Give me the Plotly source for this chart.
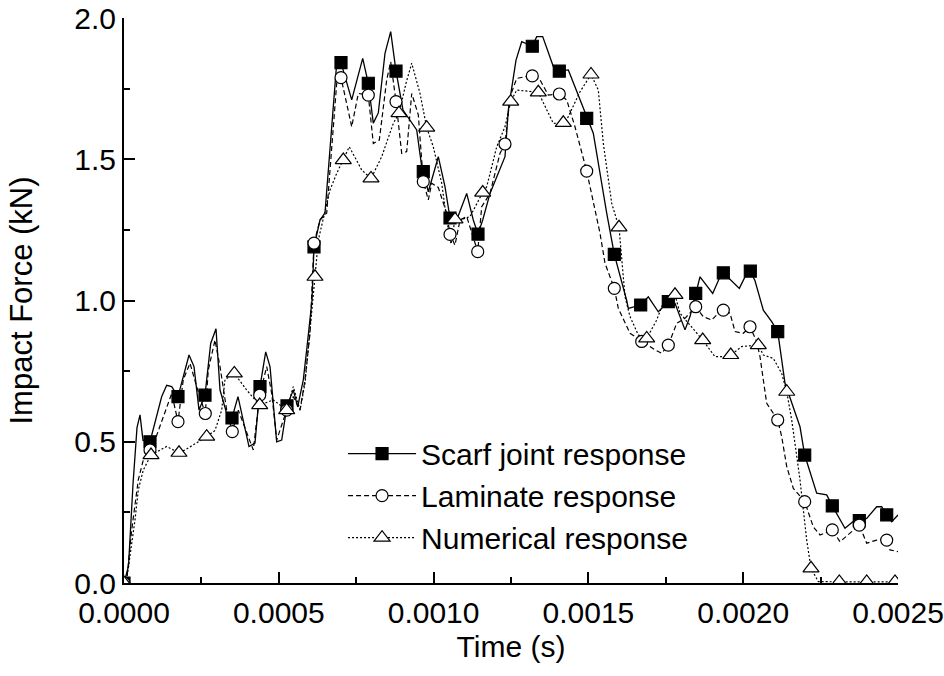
import plotly.graph_objects as go

# ---------------- data (time in s, force in kN) ----------------
scarf_t = [0, 1.45e-5, 2.91e-5, 4.20e-5, 5.17e-5, 6.14e-5, 8.40e-5, 1.218e-4, 1.379e-4, 1.541e-4,
           1.744e-4, 2.100e-4, 2.261e-4, 2.423e-4, 2.616e-4, 2.800e-4, 2.972e-4, 3.101e-4, 3.317e-4, 3.488e-4,
           3.682e-4, 4.037e-4, 4.231e-4, 4.393e-4, 4.577e-4, 4.716e-4, 4.932e-4, 5.094e-4, 5.265e-4, 5.468e-4,
           5.611e-4, 5.791e-4, 5.901e-4, 6.072e-4, 6.137e-4, 6.331e-4, 6.492e-4, 6.870e-4, 7.009e-4, 7.355e-4,
           7.710e-4, 7.891e-4, 8.052e-4, 8.214e-4, 8.430e-4, 8.614e-4, 8.786e-4, 9.012e-4, 9.454e-4, 9.616e-4,
           9.667e-4, 9.829e-4, 1.0152e-3, 1.0368e-3, 1.0530e-3, 1.0746e-3, 1.1069e-3, 1.1282e-3, 1.1434e-3, 1.1586e-3,
           1.1822e-3, 1.2145e-3, 1.2306e-3, 1.2413e-3, 1.2662e-3, 1.2846e-3, 1.3188e-3, 1.3330e-3, 1.3524e-3, 1.3867e-3,
           1.4060e-3, 1.4351e-3, 1.4729e-3, 1.4945e-3, 1.5158e-3, 1.5591e-3, 1.5837e-3, 1.6237e-3, 1.6289e-3, 1.6689e-3,
           1.6935e-3, 1.7258e-3, 1.7581e-3, 1.7797e-3, 1.8120e-3, 1.8282e-3, 1.8466e-3, 1.8605e-3, 1.9015e-3, 1.9251e-3,
           1.9358e-3, 1.9875e-3, 2.0113e-3, 2.0230e-3, 2.0381e-3, 2.0650e-3, 2.0921e-3, 2.1115e-3, 2.1350e-3, 2.1835e-3,
           2.1986e-3, 2.2374e-3, 2.2697e-3, 2.2878e-3, 2.3288e-3, 2.3611e-3, 2.3750e-3, 2.3989e-3, 2.4312e-3, 2.4474e-3,
           2.4635e-3, 2.4797e-3, 2.5000e-3]
scarf_F = [0, 0.06, 0.35, 0.55, 0.595, 0.505, 0.50, 0.66, 0.70, 0.695,
           0.66, 0.807, 0.766, 0.612, 0.665, 0.848, 0.90, 0.683, 0.60, 0.584,
           0.66, 0.483, 0.495, 0.695, 0.818, 0.766, 0.50, 0.506, 0.627, 0.683,
           0.624, 0.719, 0.825, 1.0, 1.19, 1.285, 1.31, 1.84, 1.842, 1.71,
           1.857, 1.769, 1.628, 1.664, 1.875, 1.952, 1.812, 1.674, 1.604, 1.474,
           1.456, 1.385, 1.509, 1.403, 1.292, 1.285, 1.379, 1.285, 1.235, 1.285,
           1.379, 1.468, 1.509, 1.674, 1.851, 1.916, 1.90, 1.934, 1.934, 1.828,
           1.812, 1.816, 1.71, 1.645, 1.592, 1.309, 1.163, 1.0, 0.972, 0.984,
           1.013, 0.96, 0.996, 0.99, 0.896, 0.943, 1.025, 1.084, 1.025, 1.084,
           1.098, 1.043, 1.096, 1.104, 1.07, 0.966, 0.925, 0.89, 0.707, 0.553,
           0.453, 0.318, 0.312, 0.273, 0.194, 0.223, 0.221, 0.229, 0.27, 0.27,
           0.241, 0.217, 0.241]
scarf_mt = [0, 8.40e-5, 1.744e-4, 2.616e-4, 3.488e-4, 4.393e-4, 5.265e-4, 6.137e-4, 7.009e-4, 7.891e-4,
            8.786e-4, 9.667e-4, 1.0530e-3, 1.1434e-3, 1.3188e-3, 1.4060e-3, 1.4945e-3, 1.5837e-3, 1.6689e-3, 1.7581e-3,
            1.8466e-3, 1.9358e-3, 2.0230e-3, 2.1115e-3, 2.1986e-3, 2.2878e-3, 2.3750e-3, 2.4635e-3]
scarf_mF = [0, 0.50, 0.66, 0.665, 0.584, 0.695, 0.627, 1.19, 1.842, 1.769,
            1.812, 1.456, 1.292, 1.235, 1.90, 1.812, 1.645, 1.163, 0.984, 0.996,
            1.025, 1.098, 1.104, 0.89, 0.453, 0.273, 0.221, 0.241]

lam_t = [0, 8.7e-6, 2.49e-5, 4.62e-5, 6.23e-5, 8.40e-5, 1.001e-4, 1.379e-4, 1.541e-4, 1.744e-4,
         1.915e-4, 2.132e-4, 2.348e-4, 2.626e-4, 2.723e-4, 2.939e-4, 3.101e-4, 3.317e-4, 3.498e-4, 3.692e-4,
         3.963e-4, 4.176e-4, 4.383e-4, 4.609e-4, 4.771e-4, 4.932e-4, 5.255e-4, 5.468e-4, 5.685e-4, 5.846e-4,
         6.008e-4, 6.137e-4, 6.331e-4, 6.547e-4, 6.870e-4, 7.009e-4, 7.355e-4, 7.568e-4, 7.891e-4, 8.052e-4,
         8.246e-4, 8.485e-4, 8.614e-4, 8.786e-4, 8.970e-4, 9.131e-4, 9.293e-4, 9.506e-4, 9.667e-4, 9.829e-4,
         9.939e-4, 1.0152e-3, 1.0423e-3, 1.0530e-3, 1.0691e-3, 1.0853e-3, 1.1069e-3, 1.1425e-3, 1.1554e-3, 1.1822e-3,
         1.2145e-3, 1.2306e-3, 1.2468e-3, 1.2684e-3, 1.2952e-3, 1.3188e-3, 1.3437e-3, 1.3705e-3, 1.4060e-3, 1.4299e-3,
         1.4567e-3, 1.4945e-3, 1.5375e-3, 1.5536e-3, 1.5837e-3, 1.5966e-3, 1.6344e-3, 1.6722e-3, 1.7149e-3, 1.7366e-3,
         1.7581e-3, 1.7852e-3, 1.8120e-3, 1.8466e-3, 1.8711e-3, 1.8983e-3, 1.9144e-3, 1.9358e-3, 1.9574e-3, 1.9736e-3,
         2.0003e-3, 2.0220e-3, 2.0436e-3, 2.0543e-3, 2.0759e-3, 2.1115e-3, 2.1244e-3, 2.1406e-3, 2.1619e-3, 2.1986e-3,
         2.2103e-3, 2.2264e-3, 2.2481e-3, 2.2878e-3, 2.3126e-3, 2.3395e-3, 2.3750e-3, 2.3989e-3, 2.4312e-3, 2.4635e-3,
         2.4742e-3, 2.5000e-3]
lam_F = [0, 0.01, 0.188, 0.365, 0.435, 0.471, 0.506, 0.624, 0.671, 0.571,
         0.72, 0.778, 0.695, 0.60, 0.754, 0.86, 0.766, 0.612, 0.536, 0.612,
         0.53, 0.471, 0.665, 0.766, 0.671, 0.506, 0.612, 0.66, 0.612, 0.719,
         0.884, 1.203, 1.285, 1.31, 1.769, 1.789, 1.615, 1.733, 1.727, 1.556,
         1.568, 1.781, 1.845, 1.704, 1.521, 1.527, 1.733, 1.657, 1.421, 1.356,
         1.415, 1.40, 1.309, 1.234, 1.196, 1.285, 1.297, 1.173, 1.332, 1.379,
         1.521, 1.554, 1.721, 1.786, 1.792, 1.795, 1.781, 1.727, 1.731, 1.71,
         1.615, 1.458, 1.238, 1.132, 1.043, 0.972, 0.884, 0.855, 0.825, 0.813,
         0.842, 0.919, 0.937, 0.978, 0.943, 0.931, 0.949, 0.966, 0.955, 0.89,
         0.884, 0.907, 0.854, 0.801, 0.636, 0.577, 0.518, 0.412, 0.335, 0.288,
         0.252, 0.199, 0.17, 0.188, 0.146, 0.17, 0.205, 0.141, 0.152, 0.152,
         0.117, 0.111]
lam_mt = [0, 8.40e-5, 1.744e-4, 2.626e-4, 3.498e-4, 4.383e-4, 5.255e-4, 6.137e-4, 7.009e-4, 7.891e-4,
          8.786e-4, 9.667e-4, 1.0530e-3, 1.1425e-3, 1.2306e-3, 1.3188e-3, 1.4060e-3, 1.4945e-3, 1.5837e-3, 1.6722e-3,
          1.7581e-3, 1.8466e-3, 1.9358e-3, 2.0220e-3, 2.1115e-3, 2.1986e-3, 2.2878e-3, 2.3750e-3, 2.4635e-3]
lam_mF = [0, 0.471, 0.571, 0.60, 0.536, 0.665, 0.612, 1.203, 1.789, 1.727,
          1.704, 1.421, 1.234, 1.173, 1.554, 1.795, 1.731, 1.458, 1.043, 0.855,
          0.842, 0.978, 0.966, 0.907, 0.577, 0.288, 0.188, 0.205, 0.152]

num_t = [0, 9.7e-6, 3.55e-5, 4.62e-5, 6.23e-5, 8.72e-5, 1.379e-4, 1.776e-4, 1.970e-4, 2.671e-4,
         2.939e-4, 3.156e-4, 3.262e-4, 3.563e-4, 3.963e-4, 4.383e-4, 4.822e-4, 5.255e-4, 5.468e-4, 5.685e-4,
         5.846e-4, 6.008e-4, 6.169e-4, 6.276e-4, 6.437e-4, 6.654e-4, 6.870e-4, 7.083e-4, 7.277e-4, 7.678e-4,
         7.978e-4, 8.324e-4, 8.698e-4, 8.882e-4, 9.109e-4, 9.293e-4, 9.561e-4, 9.777e-4, 9.990e-4, 1.0262e-3,
         1.0423e-3, 1.0562e-3, 1.0691e-3, 1.0853e-3, 1.1175e-3, 1.1586e-3, 1.1716e-3, 1.2038e-3, 1.2306e-3, 1.2491e-3,
         1.2684e-3, 1.3382e-3, 1.3598e-3, 1.3867e-3, 1.4190e-3, 1.4299e-3, 1.4729e-3, 1.5084e-3, 1.5320e-3, 1.5482e-3,
         1.5753e-3, 1.5989e-3, 1.6183e-3, 1.6344e-3, 1.6612e-3, 1.6883e-3, 1.7206e-3, 1.7474e-3, 1.7797e-3, 1.7959e-3,
         1.8282e-3, 1.8692e-3, 1.9089e-3, 1.9358e-3, 1.9597e-3, 1.9952e-3, 2.0488e-3, 2.0650e-3, 2.0973e-3, 2.1244e-3,
         2.1406e-3, 2.1567e-3, 2.1835e-3, 2.2051e-3, 2.2190e-3, 2.2426e-3, 2.3104e-3, 2.3989e-3, 2.4903e-3, 2.5000e-3]
num_F = [0, 0.02, 0.223, 0.33, 0.40, 0.453, 0.483, 0.461, 0.471, 0.518,
         0.54, 0.612, 0.72, 0.742, 0.683, 0.63, 0.648, 0.612, 0.695, 0.612,
         0.707, 0.885, 1.084, 1.214, 1.285, 1.391, 1.45, 1.497, 1.544, 1.462,
         1.432, 1.509, 1.627, 1.663, 1.769, 1.84, 1.733, 1.612, 1.544, 1.415,
         1.285, 1.20, 1.287, 1.285, 1.297, 1.382, 1.403, 1.544, 1.615, 1.704,
         1.745, 1.737, 1.686, 1.627, 1.629, 1.639, 1.739, 1.80, 1.745, 1.556,
         1.344, 1.259, 1.013, 0.943, 0.878, 0.866, 0.931, 1.008, 1.02, 0.955,
         0.913, 0.86, 0.801, 0.801, 0.807, 0.837, 0.842, 0.807, 0.795, 0.742,
         0.677, 0.577, 0.365, 0.152, 0.052, 0.005, 0.004, 0.004, 0.004, 0.004]
num_mt = [0, 8.72e-5, 1.776e-4, 2.671e-4, 3.563e-4, 4.383e-4, 5.255e-4, 6.169e-4, 7.083e-4, 7.978e-4,
          8.882e-4, 9.777e-4, 1.0691e-3, 1.1586e-3, 1.2491e-3, 1.3382e-3, 1.4190e-3, 1.5084e-3, 1.5989e-3, 1.6883e-3,
          1.7797e-3, 1.8692e-3, 1.9597e-3, 2.0488e-3, 2.1406e-3, 2.2190e-3, 2.3104e-3, 2.3989e-3, 2.4903e-3]
num_mF = [0, 0.453, 0.461, 0.518, 0.742, 0.63, 0.612, 1.084, 1.497, 1.432,
          1.663, 1.612, 1.287, 1.382, 1.704, 1.737, 1.629, 1.80, 1.259, 0.866,
          1.02, 0.86, 0.807, 0.842, 0.677, 0.052, 0.004, 0.004, 0.004]

series_names = ["Scarf joint response", "Laminate response", "Numerical response"]
x_ticks = [0.0, 0.0005, 0.0010, 0.0015, 0.0020, 0.0025]
x_tick_text = ["0.0000", "0.0005", "0.0010", "0.0015", "0.0020", "0.0025"]
y_ticks = [0.0, 0.5, 1.0, 1.5, 2.0]
y_tick_text = ["0.0", "0.5", "1.0", "1.5", "2.0"]

FONT = "Liberation Sans, Arial, sans-serif"

styles = [
    dict(dash="solid", width=1.3, symbol="square", size=12, fill="black"),
    dict(dash="5px,3px", width=1.2, symbol="circle", size=12, fill="white"),
    dict(dash="2px,2px", width=1.2, symbol="triangle-up", size=14, fill="white"),
]
lines = [(scarf_t, scarf_F), (lam_t, lam_F), (num_t, num_F)]
marks = [(scarf_mt, scarf_mF), (lam_mt, lam_mF), (num_mt, num_mF)]

fig = go.Figure()
for (lt, lf), st in zip(lines, styles):
    fig.add_trace(go.Scatter(x=lt, y=lf, mode="lines", showlegend=False, hoverinfo="skip",
                             line=dict(color="black", width=st["width"], dash=st["dash"])))
for (mt, mf), st in zip(marks, styles):
    fig.add_trace(go.Scatter(x=mt, y=mf, mode="markers", showlegend=False,
                             marker=dict(symbol=st["symbol"], size=st["size"], color=st["fill"],
                                         line=dict(color="black", width=1.2))))
for name, st in zip(series_names, styles):
    fig.add_trace(go.Scatter(x=[None], y=[None], mode="lines+markers", name=name,
                             line=dict(color="black", width=st["width"], dash=st["dash"]),
                             marker=dict(symbol=st["symbol"], size=st["size"], color=st["fill"],
                                         line=dict(color="black", width=1.2))))

axis_common = dict(showline=True, linecolor="black", linewidth=2, showgrid=False, zeroline=False,
                   ticks="inside", ticklen=11, tickwidth=2, tickcolor="black", mirror=False,
                   tickfont=dict(family=FONT, size=30, color="black"))

fig.update_xaxes(range=[0, 0.0025], tickvals=x_ticks, ticktext=x_tick_text,
                 minor=dict(ticks="inside", ticklen=6, tickwidth=2, tickcolor="black", dtick=0.00025),
                 title=dict(text="Time (s)", font=dict(family=FONT, size=30, color="black"), standoff=8),
                 ticklabelstandoff=2, **axis_common)
fig.update_yaxes(range=[0, 2.0], tickvals=y_ticks, ticktext=y_tick_text,
                 minor=dict(ticks="inside", ticklen=6, tickwidth=2, tickcolor="black", dtick=0.25),
                 title=dict(text="Impact Force (kN)", font=dict(family=FONT, size=31, color="black"), standoff=32),
                 ticklabelstandoff=0, **axis_common)

fig.update_layout(
    width=944, height=676,
    margin=dict(l=124, r=46, t=18, b=93, autoexpand=False),
    plot_bgcolor="white", paper_bgcolor="white",
    font=dict(family=FONT, color="black"),
    legend=dict(x=0.283, y=0.275, xanchor="left", yanchor="top", bgcolor="rgba(0,0,0,0)",
                font=dict(family=FONT, size=30, color="black"), tracegroupgap=0, itemwidth=68),
)

fig.write_html("out.html")
